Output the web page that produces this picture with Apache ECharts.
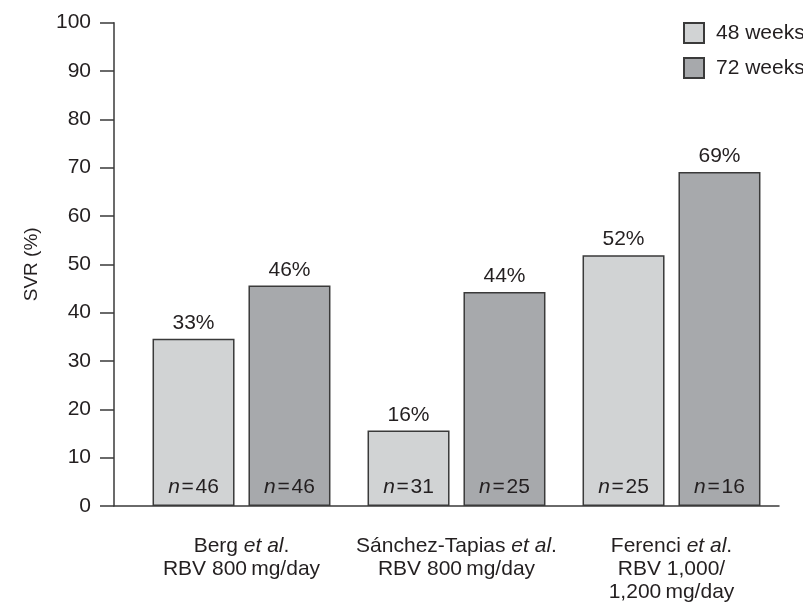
<!DOCTYPE html>
<html>
<head>
<meta charset="utf-8">
<script src="https://cdn.jsdelivr.net/npm/echarts@6/dist/echarts.min.js"></script>
<style>
html,body{margin:0;padding:0;background:#fff;}
#chart{width:803px;height:605px;}
</style>
</head>
<body>
<div id="chart"></div>
<script>
// ---- data ----
const categories = ['Berg', 'Sánchez-Tapias', 'Ferenci'];
const categoryDose = ['RBV 800\u2009mg/day', 'RBV 800\u2009mg/day', 'RBV 1,000/\n1,200\u2009mg/day'];
const seriesNames = ['48 weeks', '72 weeks'];
const svr48 = [34.6, 15.6, 51.9];
const svr72 = [45.6, 44.3, 69.1];
const label48 = ['33%', '16%', '52%'];
const label72 = ['46%', '44%', '69%'];
const n48 = [46, 31, 25];
const n72 = [46, 25, 16];
const yTicks = [0, 10, 20, 30, 40, 50, 60, 70, 80, 90, 100];

// ---- styles ----
const FONT = '"Liberation Sans", Arial, Helvetica, sans-serif';
const FS = 21;
const TXT = '#231f20';
const LIGHT = '#d1d3d4';
const DARK = '#a7a9ac';
const EDGE = '#3a3a3a';

const chart = echarts.init(document.getElementById('chart'), null, {renderer: 'canvas'});

function nLabel(arr) {
  return function (p) { return '{i|n}{t|\u200a=\u200a' + arr[p.dataIndex] + '}'; };
}
function topLabel(arr) {
  return function (p) { return arr[p.dataIndex]; };
}
const nRich = {
  i: {fontStyle: 'italic', fontSize: FS, fontFamily: FONT, color: TXT},
  t: {fontSize: FS, fontFamily: FONT, color: TXT}
};
const barCommon = {
  type: 'bar',
  barWidth: 82,
  barGap: '17%'
};

const option = {
  animation: false,
  backgroundColor: '#fff',
  textStyle: {fontFamily: FONT, color: TXT},
  grid: [
    {left: 134, right: 24, top: 22.7, bottom: 99},
    {left: 114, right: 24, top: 22.7, bottom: 99}
  ],
  legend: {
    data: seriesNames,
    orient: 'vertical',
    left: 683, top: 22, padding: 0,
    itemWidth: 20, itemHeight: 20, itemGap: 13,
    icon: 'rect',
    textStyle: {fontSize: FS, fontFamily: FONT, color: TXT, padding: [0, 0, 0, 7]}
  },
  xAxis: [
    {
      type: 'category', gridIndex: 0, data: categories,
      axisLine: {show: false}, axisTick: {show: false},
      axisLabel: {
        margin: 29, interval: 0,
        formatter: function (v, i) {
          const dose = categoryDose[i].split('\n').map(s => '{a|' + s + '}').join('\n');
          return '{a|' + v + ' }{i|et al}{a|.}\n' + dose;
        },
        rich: {
          a: {fontSize: FS, fontFamily: FONT, color: TXT, lineHeight: 23},
          i: {fontSize: FS, fontFamily: FONT, color: TXT, fontStyle: 'italic', lineHeight: 23}
        }
      }
    },
    {
      type: 'category', gridIndex: 0, data: categories, show: false
    },
    {
      type: 'value', gridIndex: 1, min: 0, max: 1,
      axisLine: {show: true, lineStyle: {color: EDGE, width: 1.5}},
      axisTick: {show: false}, axisLabel: {show: false}, splitLine: {show: false}
    }
  ],
  yAxis: [
    {
      type: 'value', gridIndex: 0, min: 0, max: 100, interval: 10, offset: 20,
      name: 'SVR (%)', nameLocation: 'middle', nameGap: 73, nameRotate: 90,
      nameTextStyle: {fontSize: 19, fontFamily: FONT, color: TXT},
      axisLine: {show: true, lineStyle: {color: EDGE, width: 1.5}},
      axisTick: {show: true, inside: false, length: 14, lineStyle: {color: EDGE, width: 1.5}},
      axisLabel: {fontSize: FS, fontFamily: FONT, color: TXT, margin: 23,
        formatter: function (v) { return yTicks.indexOf(v) >= 0 ? String(v) : ''; }},
      splitLine: {show: false}
    },
    {
      type: 'value', gridIndex: 1, min: 0, max: 100, show: false
    }
  ],
  series: [
    Object.assign({}, barCommon, {
      name: seriesNames[0], xAxisIndex: 0, yAxisIndex: 0, data: svr48,
      itemStyle: {color: LIGHT, borderColor: EDGE, borderWidth: 1.5},
      label: {show: true, position: 'top', distance: 5, formatter: topLabel(label48),
        fontSize: FS, fontFamily: FONT, color: TXT}
    }),
    Object.assign({}, barCommon, {
      name: seriesNames[1], xAxisIndex: 0, yAxisIndex: 0, data: svr72,
      itemStyle: {color: DARK, borderColor: EDGE, borderWidth: 1.5},
      label: {show: true, position: 'top', distance: 5, formatter: topLabel(label72),
        fontSize: FS, fontFamily: FONT, color: TXT}
    }),
    Object.assign({}, barCommon, {
      name: 'n48', xAxisIndex: 1, yAxisIndex: 0, data: svr48, silent: true, z: 3,
      itemStyle: {color: 'rgba(0,0,0,0)', borderWidth: 0},
      label: {show: true, position: 'insideBottom', distance: 8, formatter: nLabel(n48), rich: nRich}
    }),
    Object.assign({}, barCommon, {
      name: 'n72', xAxisIndex: 1, yAxisIndex: 0, data: svr72, silent: true, z: 3,
      itemStyle: {color: 'rgba(0,0,0,0)', borderWidth: 0},
      label: {show: true, position: 'insideBottom', distance: 8, formatter: nLabel(n72), rich: nRich}
    })
  ]
};
chart.setOption(option);
</script>
</body>
</html>
